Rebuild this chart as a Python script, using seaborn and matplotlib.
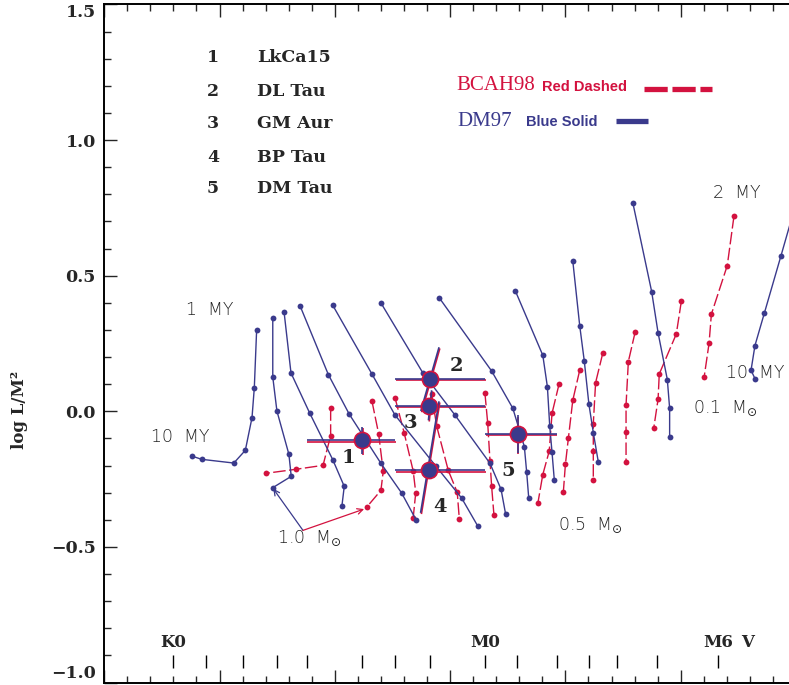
import numpy as np
import pandas as pd
import matplotlib
matplotlib.use("Agg")
import matplotlib.pyplot as plt
import matplotlib.transforms as mtransforms
import seaborn as sns
from matplotlib.lines import Line2D
from matplotlib.ticker import MultipleLocator

BLUE = "#3a3a8c"
RED = "#d3123f"

# ---------------- DM97 tracks (log Teff, log L/M^2) -----------------
dm97_A_T = [3.6839, 3.6849, 3.6859, 3.6888, 3.6938, 3.7077, 3.7121]
dm97_A_L = [0.299, 0.0875, -0.0232, -0.1439, -0.1908, -0.1771, -0.1649]
dm97_B_T = [3.6769, 3.6769, 3.6751, 3.6699, 3.6689, 3.6769]
dm97_B_L = [0.3432, 0.1266, 0.0011, -0.1587, -0.2399, -0.2816]
dm97_C_T = [3.6720, 3.6690, 3.6609, 3.6509, 3.6459, 3.6469]
dm97_C_L = [0.3664, 0.1413, -0.0063, -0.1782, -0.2768, -0.3480]
dm97_D_T = [3.6650, 3.6528, 3.6437, 3.6300, 3.6210, 3.6148]
dm97_D_L = [0.3875, 0.1354, -0.0111, -0.1919, -0.3015, -0.3996]
dm97_E_T = [3.6509, 3.6340, 3.6239, 3.6061, 3.5950, 3.5880]
dm97_E_L = [0.3911, 0.1391, -0.0137, -0.2030, -0.3199, -0.4232]
dm97_F_T = [3.6300, 3.6119, 3.5979, 3.5827, 3.5779, 3.5759]
dm97_F_L = [0.3996, 0.1428, -0.0137, -0.1919, -0.2878, -0.3801]
dm97_G_T = [3.6048, 3.5820, 3.5728, 3.5678, 3.5668, 3.5659]
dm97_G_L = [0.4196, 0.1487, 0.0111, -0.1303, -0.2240, -0.3199]
dm97_H_T = [3.5717, 3.5598, 3.5578, 3.5568, 3.5558, 3.5548]
dm97_H_L = [0.4439, 0.2066, 0.0897, -0.0542, -0.1513, -0.2546]
dm97_J_T = [3.5468, 3.5438, 3.5418, 3.5398, 3.5379, 3.5357]
dm97_J_L = [0.5546, 0.3162, 0.1845, 0.0258, -0.0786, -0.1882]
dm97_I_T = [3.5207, 3.5126, 3.5098, 3.5058, 3.5048, 3.5048]
dm97_I_L = [0.7664, 0.4417, 0.2889, 0.1170, 0.0111, -0.0948]
dm97_K_T = [3.4496, 3.4566, 3.4637, 3.4678, 3.4695, 3.4678]
dm97_K_L = [0.7786, 0.5709, 0.3627, 0.2424, 0.1513, 0.1207]

# ---------------- BCAH98 tracks -----------------
bcah_1_T = [3.6518, 3.6518, 3.6551, 3.6670, 3.6800]
bcah_1_L = [0.0111, -0.0897, -0.1993, -0.2140, -0.2288]
bcah_2_T = [3.6339, 3.6310, 3.6290, 3.6300, 3.6360]
bcah_2_L = [0.0380, -0.0823, -0.2214, -0.2915, -0.3517]
bcah_3_T = [3.6239, 3.6199, 3.6160, 3.6149, 3.6160]
bcah_3_L = [0.0506, -0.0801, -0.2203, -0.3000, -0.3923]
bcah_4_T = [3.6080, 3.6058, 3.6008, 3.5969, 3.5960]
bcah_4_L = [0.0627, -0.0554, -0.2177, -0.2989, -0.3974]
bcah_5_T = [3.5849, 3.5837, 3.5827, 3.5820, 3.5810]
bcah_5_L = [0.0675, -0.0432, -0.1827, -0.2757, -0.3812]
bcah_6_T = [3.5527, 3.5558, 3.5570, 3.5598, 3.5619]
bcah_6_L = [0.1022, -0.0074, -0.1465, -0.2332, -0.3369]
bcah_7_T = [3.5438, 3.5468, 3.5487, 3.5500, 3.5509]
bcah_7_L = [0.1513, 0.0406, -0.0985, -0.1956, -0.2989]
bcah_8_T = [3.5338, 3.5369, 3.5379, 3.5379, 3.5379]
bcah_8_L = [0.2140, 0.1059, -0.0454, -0.1465, -0.2546]
bcah_9_T = [3.5197, 3.5227, 3.5237, 3.5237, 3.5237]
bcah_9_L = [0.2941, 0.1834, 0.0232, -0.0775, -0.1871]
bcah_10_T = [3.4997, 3.5019, 3.5093, 3.5098, 3.5117]
bcah_10_L = [0.4070, 0.2852, 0.1376, 0.0454, -0.0627]
bcah_11_T = [3.4769, 3.4798, 3.4867, 3.4877, 3.4898]
bcah_11_L = [0.7196, 0.5376, 0.3579, 0.2509, 0.1280]

# ---------------- Stars -----------------
star_ids = ["1", "2", "3", "4", "5"]
star_names = ["LkCa15", "DL Tau", "GM Aur", "BP Tau", "DM Tau"]
star_logT = [3.6380, 3.6088, 3.6090, 3.6090, 3.5707]
star_L = [-0.1070, 0.1181, 0.0196, -0.2177, -0.0838]
star_T_hot = [3.6622, 3.6239, 3.6239, 3.6239, 3.5849]
star_T_cool = [3.6239, 3.5849, 3.5849, 3.5849, 3.5538]
star_bar_T1 = [3.6380, 3.6048, 3.6080, 3.6048, 3.5707]
star_bar_L1 = [-0.0579, 0.2362, 0.0775, 0.0369, -0.0148]
star_bar_T2 = [3.6380, 3.6127, 3.6094, 3.6128, 3.5707]
star_bar_L2 = [-0.1561, 0.0011, -0.0332, -0.3745, -0.1524]
star_lab_T = [3.6443, 3.5974, 3.6174, 3.6044, 3.5749]
star_lab_L = [-0.1734, 0.1661, -0.0443, -0.3543, -0.2214]

# spectral type ticks
spt_logT = [3.7202, 3.7057, 3.6899, 3.6750, 3.6621, 3.6381, 3.6241, 3.6089,
            3.5849, 3.5708, 3.5537, 3.5399, 3.5277, 3.5104, 3.4837]
spt_labels = {"K0": 3.7202, "M0": 3.5849, "M6": 3.4837}

# ---------------- figure -----------------
sns.set_style("ticks")
plt.rcParams["font.family"] = ["DejaVu Sans"]

fig = plt.figure(figsize=(7.89, 6.85), dpi=100)
ax = fig.add_axes([104.2 / 789, 2.5 / 685, (796 - 104.2) / 789, 678 / 685])


def tracks_df(pairs):
    rows = []
    for name, (T, L) in pairs.items():
        for t, l in zip(T, L):
            rows.append((name, t, l))
    return pd.DataFrame(rows, columns=["track", "logT", "L"])


dm97 = tracks_df({
    "A": (dm97_A_T, dm97_A_L), "B": (dm97_B_T, dm97_B_L), "C": (dm97_C_T, dm97_C_L),
    "D": (dm97_D_T, dm97_D_L), "E": (dm97_E_T, dm97_E_L), "F": (dm97_F_T, dm97_F_L),
    "G": (dm97_G_T, dm97_G_L), "H": (dm97_H_T, dm97_H_L), "J": (dm97_J_T, dm97_J_L),
    "I": (dm97_I_T, dm97_I_L), "K": (dm97_K_T, dm97_K_L),
})
bcah = tracks_df({
    "1": (bcah_1_T, bcah_1_L), "2": (bcah_2_T, bcah_2_L), "3": (bcah_3_T, bcah_3_L),
    "4": (bcah_4_T, bcah_4_L), "5": (bcah_5_T, bcah_5_L), "6": (bcah_6_T, bcah_6_L),
    "7": (bcah_7_T, bcah_7_L), "8": (bcah_8_T, bcah_8_L), "9": (bcah_9_T, bcah_9_L),
    "10": (bcah_10_T, bcah_10_L), "11": (bcah_11_T, bcah_11_L),
})

sns.lineplot(data=bcah, x="logT", y="L", units="track", estimator=None, sort=False,
             color=RED, lw=1.0, linestyle=(0, (9, 2.5)), marker="o", markersize=4.2,
             markeredgewidth=0, ax=ax, zorder=2, legend=False)
sns.lineplot(data=dm97, x="logT", y="L", units="track", estimator=None, sort=False,
             color=BLUE, lw=1.0, marker="o", markersize=4.2, markeredgewidth=0,
             ax=ax, zorder=3, legend=False)

# error bars: blue line with a thin red line just below it
shifted = mtransforms.offset_copy(ax.transData, fig=fig, x=0.8, y=-1.2, units="dots")
for i in range(len(star_ids)):
    for c, tr in ((RED, shifted), (BLUE, ax.transData)):
        ax.plot([star_T_hot[i], star_T_cool[i]], [star_L[i], star_L[i]], color=c, lw=1.2,
                zorder=4, solid_capstyle="butt", transform=tr)
        ax.plot([star_bar_T1[i], star_bar_T2[i]], [star_bar_L1[i], star_bar_L2[i]], color=c,
                lw=1.2, zorder=4, solid_capstyle="butt", transform=tr)

sns.scatterplot(x=star_logT, y=star_L, s=135, color=BLUE, edgecolor=RED, linewidth=1.2,
                ax=ax, zorder=6, legend=False)

for i, sid in enumerate(star_ids):
    ax.text(star_lab_T[i], star_lab_L[i], sid, fontsize=14, fontweight="bold",
            family="DejaVu Serif", ha="center", va="center", zorder=7)

# text labels
lab_kw = dict(fontsize=12.5, color="#222222", ha="center", va="center",
              family="DejaVu Sans", fontweight="light")
ax.text(3.7041, 0.3727, "1  MY", **lab_kw)
ax.text(3.7171, -0.0959, "10  MY", **lab_kw)
ax.text(3.6608, -0.4686, "1.0  M$_{\\odot}$", **lab_kw)
ax.text(3.5393, -0.4207, "0.5  M$_{\\odot}$", **lab_kw)
ax.text(3.4756, 0.8044, "2  MY", **lab_kw)
ax.text(3.4678, 0.1402, "10  MY", **lab_kw)
ax.text(3.4808, 0.0111, "0.1  M$_{\\odot}$", **lab_kw)

ax.annotate("", xy=(3.6767, -0.2852), xytext=(3.6638, -0.4391),
            arrowprops=dict(arrowstyle="->", color=BLUE, lw=0.9, shrinkA=0, shrinkB=0))
ax.annotate("", xy=(3.6373, -0.3605), xytext=(3.6638, -0.4391),
            arrowprops=dict(arrowstyle="->", color=RED, lw=0.9, shrinkA=0, shrinkB=0))

# spectral type scale
ax.vlines(spt_logT, -0.9483, -0.9004, color="black", lw=1.0)
spt_kw = dict(fontsize=12, fontweight="bold", family="DejaVu Serif", va="center")
ax.text(spt_labels["K0"], -0.852, "K0", ha="center", **spt_kw)
ax.text(spt_labels["M0"], -0.852, "M0", ha="center", **spt_kw)
ax.text(spt_labels["M6"], -0.852, "M6", ha="center", **spt_kw)
ax.text(3.4712, -0.852, "V", ha="center", **spt_kw)

# axes
ax.set_xlim(3.75, 3.45)
ax.set_ylim(-1.0, 1.5)
ax.xaxis.set_major_locator(MultipleLocator(0.05))
ax.xaxis.set_minor_locator(MultipleLocator(0.01))
yt = [-1.0, -0.5, 0.0, 0.5, 1.0, 1.5]
ax.set_yticks(yt)
ax.set_yticklabels([("\u2212" if v < 0 else "") + f"{abs(v):.1f}" for v in yt],
                   fontsize=12.5, fontweight="bold", family="DejaVu Serif")
tl = ax.get_yticklabels()
tl[0].set_va("bottom")
tl[-1].set_va("top")
ax.yaxis.set_minor_locator(MultipleLocator(0.1))
ax.tick_params(which="major", direction="in", length=9.5, width=1.0, top=True,
               bottom=True, left=True, right=False, labelbottom=False, pad=6)
ax.tick_params(which="minor", direction="in", length=4.8, width=1.0, top=True,
               bottom=True, left=True, right=False)
for s in ["left", "bottom", "top"]:
    ax.spines[s].set_linewidth(1.4)
    ax.spines[s].set_color("black")
ax.spines["right"].set_visible(False)
ax.set_xlabel("")
ax.set_ylabel("")

fig.text(20 / 789, 1 - 410 / 685, "log L/M\u00b2", rotation=90, fontsize=12,
         fontweight="bold", family="DejaVu Serif", ha="center", va="center")

# object list
rows_y = [57, 91, 124, 157, 189]
for sid, nm, yy in zip(star_ids, star_names, rows_y):
    fig.text(213 / 789, 1 - yy / 685, sid, fontsize=12.5, fontweight="bold",
             family="DejaVu Serif", ha="center", va="center")
    fig.text(257 / 789, 1 - yy / 685, nm, fontsize=12.5, fontweight="bold",
             family="DejaVu Serif", ha="left", va="center")

# model key
fig.text(456 / 789, 1 - 85 / 685, "BCAH98", fontsize=15, color=RED,
         family="Liberation Serif", ha="left", va="center")
fig.text(542 / 789, 1 - 87 / 685, "Red Dashed", fontsize=10.5, color=RED,
         fontweight="bold", family="Liberation Sans", ha="left", va="center")
fig.add_artist(Line2D([644 / 789, 712 / 789], [1 - 89 / 685, 1 - 89 / 685], color=RED,
                      lw=3.8, linestyle=(0, (4.4, 0.9)), transform=fig.transFigure))
fig.text(457 / 789, 1 - 121 / 685, "DM97", fontsize=15, color=BLUE,
         family="Liberation Serif", ha="left", va="center")
fig.text(526 / 789, 1 - 122 / 685, "Blue Solid", fontsize=10.5, color=BLUE,
         fontweight="bold", family="Liberation Sans", ha="left", va="center")
fig.add_artist(Line2D([616 / 789, 648 / 789], [1 - 121 / 685, 1 - 121 / 685], color=BLUE,
                      lw=3.8, transform=fig.transFigure, solid_capstyle="butt"))

fig.savefig("out.png", dpi=100)
